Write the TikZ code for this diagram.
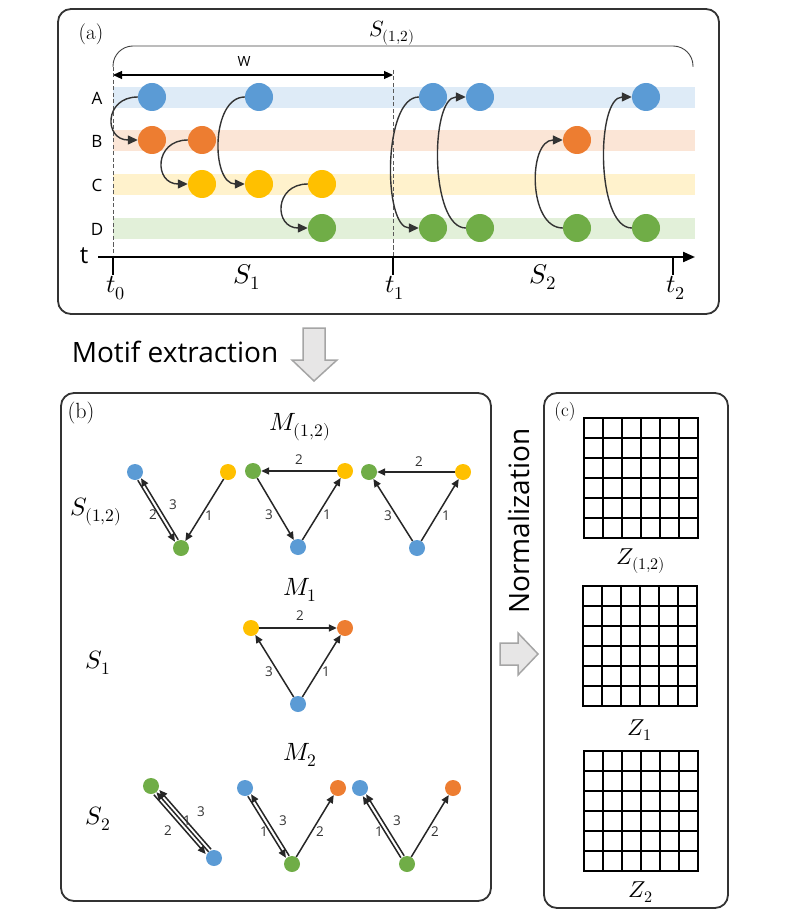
\documentclass[tikz,border=0pt]{standalone}
\usepackage{fontspec}
\usepackage{unicode-math}
\setmathfont{Latin Modern Math}
\newfontfamily\osans{Open Sans}
\usetikzlibrary{arrows.meta,calc}
\definecolor{cblue}{HTML}{5B9BD5}
\definecolor{corange}{HTML}{ED7D31}
\definecolor{cyel}{HTML}{FFC000}
\definecolor{cgreen}{HTML}{70AD47}
\definecolor{bblue}{HTML}{DEEBF7}
\definecolor{borange}{HTML}{FBE5D6}
\definecolor{byel}{HTML}{FFF2CC}
\definecolor{bgreen}{HTML}{E2F0D9}
\definecolor{hfill}{HTML}{E7E6E6}
\definecolor{hdraw}{HTML}{A5A5A5}
\newcommand\fs[1]{\fontsize{#1}{#1}\selectfont}
\newcommand\pedgeR[3]{\draw[medge,pshort] ($(#1)!#3!-90:(#2)$) -- ($(#2)!#3!90:(#1)$);}
\newcommand\pedgeL[3]{\draw[medge,pshort] ($(#1)!#3!90:(#2)$) -- ($(#2)!#3!-90:(#1)$);}
\begin{document}
\begin{tikzpicture}[x=1pt,y=-1pt,
  panel/.style={line width=1.8pt, draw=black!80, rounded corners=13pt},
  bigdot/.style={circle, inner sep=0pt, minimum size=28pt, draw=none},
  smalldot/.style={circle, inner sep=0pt, minimum size=16pt, draw=none},
  aarr/.style={line width=1.4pt, draw=black!80, -{Triangle[length=10pt,width=9pt]}},
  medge/.style={line width=1.5pt, draw=black!85, -{Triangle[length=8pt,width=7pt]}},
  pshort/.style={shorten >=8.5pt, shorten <=8.5pt},
  num/.style={font=\osans\fs{13.5}, text=black!80, inner sep=0pt},
  rowlab/.style={font=\osans\fs{17}, inner sep=0pt},
  harrow/.style={fill=hfill, draw=hdraw, line width=1.5pt, line join=miter},
  gridln/.style={line width=2pt, draw=black, line cap=rect}
]
\useasboundingbox (0,0) rectangle (791,917);

% ---------------- panel (a)
\draw[panel] (58,9) rectangle (719,314);
\node[font=\fs{21}] (la) at (91,34) {(a)};
\node[font=\fs{22}] (s12top) at (392,33) {$S_{(1,2)}$};
\draw[line width=0.9pt, black!75, rounded corners=20pt] (113,67) |- (693,46) -- (693,67);

% bands
\fill[bblue] (113,87) rectangle (695,108);
\fill[borange] (113,130) rectangle (695,151);
\fill[byel] (113,174) rectangle (695,195);
\fill[bgreen] (113,218) rectangle (695,239);
\node[rowlab] (rA) at (97,98) {A};
\node[rowlab] (rB) at (97,141) {B};
\node[rowlab] (rC) at (97,185) {C};
\node[rowlab] (rD) at (97,229) {D};

% window
\coordinate (w0) at (113,75);
\coordinate (w1) at (393,75);
\draw[line width=1.1pt, {Triangle[length=9pt,width=8pt]}-{Triangle[length=9pt,width=8pt]}] (w0) -- (w1);
\node[font=\osans\fs{14}] (wl) at (244,62) {W};
\draw[black!65, line width=0.8pt, dash pattern=on 4pt off 2.5pt] (113,67) -- (113,257);
\draw[black!65, line width=0.8pt, dash pattern=on 4pt off 2.5pt] (393,70) -- (393,257);

% axis
\coordinate (ax0) at (98,257);
\coordinate (ax1) at (695,257);
\draw[line width=2.2pt, -{Triangle[length=12pt,width=10pt]}] (ax0) -- (ax1);
\draw[line width=1.8pt] (113,256) -- (113,275);
\draw[line width=1.8pt] (393,256) -- (393,275);
\draw[line width=1.8pt] (673,256) -- (673,275);
\node[font=\osans\fs{24}] (tl) at (84,256) {t};
\node[font=\fs{26}] (t0) at (116,288) {$t_0$};
\node[font=\fs{26}] (t1) at (395,288) {$t_1$};
\node[font=\fs{26}] (t2) at (676,288) {$t_2$};
\node[font=\fs{27}] (S1a) at (247,277) {$S_1$};
\node[font=\fs{27}] (S2a) at (543,277) {$S_2$};

% events
\node[bigdot,fill=cblue] (A1) at (152,97) {};
\node[bigdot,fill=corange] (B1) at (152,140) {};
\node[bigdot,fill=corange] (B2) at (202,140) {};
\node[bigdot,fill=cyel] (C1) at (202,184) {};
\node[bigdot,fill=cblue] (A2) at (259,97) {};
\node[bigdot,fill=cyel] (C2) at (259,184) {};
\node[bigdot,fill=cyel] (C3) at (322,184) {};
\node[bigdot,fill=cgreen] (D1) at (322,228) {};
\node[bigdot,fill=cblue] (A3) at (433,97) {};
\node[bigdot,fill=cgreen] (D2) at (433,228) {};
\node[bigdot,fill=cblue] (A4) at (480,97) {};
\node[bigdot,fill=cgreen] (D3) at (480,228) {};
\node[bigdot,fill=corange] (B3) at (577,140) {};
\node[bigdot,fill=cgreen] (D4) at (577,228) {};
\node[bigdot,fill=cblue] (A5) at (646,97) {};
\node[bigdot,fill=cgreen] (D5) at (646,228) {};

\draw[aarr] (A1.west) .. controls +(-34,0) and +(-34,0) .. (B1.west);
\draw[aarr] (B2.west) .. controls +(-34,0) and +(-34,0) .. (C1.west);
\draw[aarr] (A2.west) .. controls +(-34,0) and +(-34,0) .. (C2.west);
\draw[aarr] (C3.west) .. controls +(-34,0) and +(-34,0) .. (D1.west);
\draw[aarr] (A3.west) .. controls +(-36,0) and +(-36,0) .. (D2.west);
\draw[aarr] (D3.west) .. controls +(-36,0) and +(-36,0) .. (A4.west);
\draw[aarr] (D4.west) .. controls +(-35,0) and +(-35,0) .. (B3.west);
\draw[aarr] (D5.west) .. controls +(-36,0) and +(-36,0) .. (A5.west);

% ---------------- motif extraction arrow
\node[font=\osans\fs{28}] (mext) at (175,352) {Motif extraction};
\draw[harrow] (303,328) -- (325,328) -- (325,360) -- (337,360) -- (314,381) -- (292,360) -- (303,360) -- cycle;

% ---------------- panel (b)
\draw[panel] (61,393) rectangle (491,901);
\node[font=\fs{22}] (lb) at (81,413) {(b)};
\node[font=\fs{25}] (M12) at (300,427) {$M_{(1,2)}$};
\node[font=\fs{25}] (M1) at (300,590) {$M_{1}$};
\node[font=\fs{25}] (M2) at (300,755) {$M_{2}$};
\node[font=\fs{25}] (S12b) at (96,512) {$S_{(1,2)}$};
\node[font=\fs{25}] (S1b) at (98,663) {$S_{1}$};
\node[font=\fs{25}] (S2b) at (98,819) {$S_{2}$};

% row 1 motif 1
\node[smalldot,fill=cblue] (ra1) at (135,472) {};
\node[smalldot,fill=cyel] (ra2) at (228,472) {};
\node[smalldot,fill=cgreen] (ra3) at (181,548) {};
\pedgeR{ra1}{ra3}{1.9pt}
\pedgeR{ra3}{ra1}{1.9pt}
\draw[medge] (ra2) -- (ra3);
\node[num] (na2) at (153,515) {2};
\node[num] (na3) at (173,505) {3};
\node[num] (na1) at (209,516) {1};
% row 1 motif 2
\node[smalldot,fill=cgreen] (rb1) at (253,471) {};
\node[smalldot,fill=cyel] (rb2) at (345,471) {};
\node[smalldot,fill=cblue] (rb3) at (298,547) {};
\draw[medge] (rb2) -- (rb1);
\draw[medge] (rb1) -- (rb3);
\draw[medge] (rb3) -- (rb2);
\node[num] (nb2) at (299,460) {2};
\node[num] (nb3) at (269,515) {3};
\node[num] (nb1) at (327,515) {1};
% row 1 motif 3
\node[smalldot,fill=cgreen] (rc1) at (369,472) {};
\node[smalldot,fill=cyel] (rc2) at (463,472) {};
\node[smalldot,fill=cblue] (rc3) at (417,548) {};
\draw[medge] (rc2) -- (rc1);
\draw[medge] (rc3) -- (rc1);
\draw[medge] (rc3) -- (rc2);
\node[num] (nc2) at (419,462) {2};
\node[num] (nc3) at (388,516) {3};
\node[num] (nc1) at (446,516) {1};
% row 2
\node[smalldot,fill=cyel] (s1) at (251,628) {};
\node[smalldot,fill=corange] (s2) at (345,628) {};
\node[smalldot,fill=cblue] (s3) at (298,704) {};
\draw[medge] (s1) -- (s2);
\draw[medge] (s3) -- (s1);
\draw[medge] (s3) -- (s2);
\node[num] (ns2) at (300,616) {2};
\node[num] (ns3) at (269,672) {3};
\node[num] (ns1) at (326,672) {1};
% row 3 motif 1
\node[smalldot,fill=cgreen] (u1) at (151,786) {};
\node[smalldot,fill=cblue] (u2) at (214,858) {};
\pedgeR{u1}{u2}{3.6pt}
\draw[medge] (u2) -- (u1);
\pedgeR{u2}{u1}{3.6pt}
\node[num] (nu2) at (168,831) {2};
\node[num] (nu1) at (187,821) {1};
\node[num] (nu3) at (201,812) {3};
% row 3 motif 2
\node[smalldot,fill=cblue] (v1) at (245,788) {};
\node[smalldot,fill=corange] (v2) at (338,788) {};
\node[smalldot,fill=cgreen] (v3) at (292,864) {};
\pedgeR{v1}{v3}{1.9pt}
\pedgeR{v3}{v1}{1.9pt}
\draw[medge] (v3) -- (v2);
\node[num] (nv1) at (264,832) {1};
\node[num] (nv3) at (283,821) {3};
\node[num] (nv2) at (320,832) {2};
% row 3 motif 3
\node[smalldot,fill=cblue] (w1) at (360,788) {};
\node[smalldot,fill=corange] (w2) at (453,788) {};
\node[smalldot,fill=cgreen] (w3) at (407,864) {};
\pedgeL{w3}{w1}{1.9pt}
\pedgeR{w3}{w1}{1.9pt}
\draw[medge] (w3) -- (w2);
\node[num] (nw1) at (379,832) {1};
\node[num] (nw3) at (397,821) {3};
\node[num] (nw2) at (435,832) {2};

% ---------------- normalization arrow
\node[font=\osans\fs{28}, rotate=90] (norm) at (519,521) {Normalization};
\draw[harrow] (500,643) -- (518,643) -- (518,633) -- (538,654) -- (518,675) -- (518,665) -- (500,665) -- cycle;

% ---------------- panel (c)
\draw[panel] (544,393) rectangle (728,908);
\node[font=\fs{19}] (lc) at (565,412) {(c)};
\foreach \i in {0,...,6} {
  \draw[gridln] (584+\i*19,418) -- (584+\i*19,538);
  \draw[gridln] (584,418+\i*20) -- (698,418+\i*20);
  \draw[gridln] (583+\i*19,586) -- (583+\i*19,706);
  \draw[gridln] (583,586+\i*20) -- (697,586+\i*20);
  \draw[gridln] (584+\i*19,751) -- (584+\i*19,871);
  \draw[gridln] (584,751+\i*20) -- (698,751+\i*20);
}
\node[font=\fs{23}] (Z12) at (641,561) {$Z_{(1,2)}$};
\node[font=\fs{23}] (Z1) at (640,730) {$Z_{1}$};
\node[font=\fs{23}] (Z2) at (641,892) {$Z_{2}$};
\end{tikzpicture}
\end{document}
